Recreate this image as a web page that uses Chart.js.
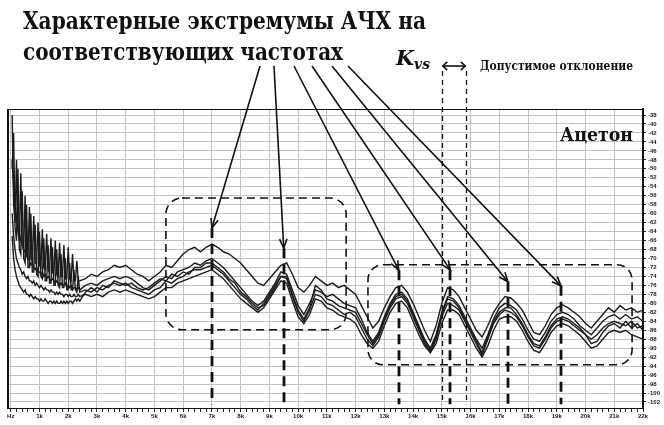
<!DOCTYPE html>
<html>
<head>
<meta charset="utf-8">
<script src="https://cdn.jsdelivr.net/npm/chart.js@4.4.1/dist/chart.umd.min.js"></script>
<style>
  html, body { margin: 0; padding: 0; background: #ffffff; }
  canvas { display: block; }
</style>
</head>
<body>
<canvas id="afc" width="664" height="425"></canvas>
<script>
// Frequency grid, Hz: fine steps in the low band, 200 Hz steps above it
const lowHz = [
  50, 100, 150, 200, 250, 300, 350, 400, 450, 500, 550, 600,
  650, 700, 750, 800, 850, 900, 950, 1000, 1050, 1100, 1150, 1200,
  1250, 1300, 1350, 1400, 1450, 1500, 1550, 1600, 1650, 1700, 1750, 1800,
  1850, 1900, 1950, 2000, 2050, 2100, 2150, 2200, 2250, 2300, 2350, 2400
];
const mainHz = [
  2600, 2800, 3000, 3200, 3400, 3600, 3800, 4000, 4200, 4400,
  4600, 4800, 5000, 5200, 5400, 5600, 5800, 6000, 6200, 6400,
  6600, 6800, 7000, 7200, 7400, 7600, 7800, 8000, 8200, 8400,
  8600, 8800, 9000, 9200, 9400, 9600, 9800, 10000, 10200, 10400,
  10600, 10800, 11000, 11200, 11400, 11600, 11800, 12000, 12200, 12400,
  12600, 12800, 13000, 13200, 13400, 13600, 13800, 14000, 14200, 14400,
  14600, 14800, 15000, 15200, 15400, 15600, 15800, 16000, 16200, 16400,
  16600, 16800, 17000, 17200, 17400, 17600, 17800, 18000, 18200, 18400,
  18600, 18800, 19000, 19200, 19400, 19600, 19800, 20000, 20200, 20400,
  20600, 20800, 21000, 21200, 21400, 21600, 21800, 22000
];
const freqHz = lowHz.concat(mainHz);

// Frequency response of the acetone runs, dB
const traceA = [
  -38, -58, -62, -48, -64, -66, -51, -67, -68, -56, -69, -69.5,
  -58.5, -70, -70.5, -60.5, -71, -71, -62, -71.5, -72, -63.5, -72, -72.5,
  -64.5, -72.5, -73, -65.5, -73, -73.5, -66, -73.5, -74, -66.5, -74, -74,
  -67, -74.5, -74.5, -67.5, -74.5, -75, -69, -75, -75, -70.5, -75, -75,
  -74.5, -73.5, -74, -73, -72.5, -71.5, -72, -71.5, -72.5, -73.5,
  -74, -75, -74, -73, -71.5, -72, -70.5, -69, -68, -67.5,
  -68.5, -67.5, -66.8, -67.5, -68.5, -69, -70, -71, -72.5, -74,
  -75.5, -76, -74.5, -73, -71.5, -71, -73.5, -76.5, -77.5, -76,
  -74, -75, -76, -75.5, -76.5, -76, -77, -78, -80.5, -83,
  -85.5, -84, -81, -78.5, -76.5, -76, -77.5, -80, -83, -86,
  -88.5, -85, -80, -76.5, -77, -78.5, -81, -83.5, -86, -87.5,
  -85, -82, -80, -78.5, -78.8, -80, -81.5, -84, -86.5, -87,
  -85, -82.5, -81, -80.3, -81, -82, -83, -84.5, -85.5, -84,
  -82.5, -81, -82, -80.5, -81.5, -81, -82, -81.5
];
const traceB = [
  -48, -54, -58, -61, -63, -64.5, -66, -67, -68, -68.5, -69.5, -70,
  -70.5, -71.5, -71, -72, -72.5, -72, -73, -73, -73.5, -73, -74, -73.5,
  -74.5, -74, -74.5, -75, -74.5, -75, -75.5, -75, -75.5, -76, -75.5, -76,
  -76, -75.5, -76.5, -76, -76.5, -76, -77, -76.5, -76.5, -77, -76.5, -77,
  -76, -75.5, -76, -75, -74.5, -74, -74.5, -74, -74.5, -75.5,
  -76.5, -77, -76, -75, -74, -74.5, -73, -72.5, -72, -71,
  -71.5, -70.5, -70, -71, -72, -73.5, -75, -76.5, -78, -79.5,
  -80.5, -79.5, -77.5, -75.5, -73, -73.5, -77, -80.5, -82.5, -80,
  -77, -77.5, -78.5, -78, -79, -80, -80.5, -81, -83.5, -86.5,
  -88.5, -86.5, -83, -80, -78, -77.5, -79, -82, -85, -88,
  -90, -87, -82, -78.5, -79, -80.5, -83, -85.5, -88, -90,
  -87, -83.5, -81, -80, -80.5, -81.5, -83.5, -86, -88, -88.5,
  -86.5, -84, -82.5, -82, -82.5, -83.5, -85, -86, -87, -85.5,
  -84, -83, -82.5, -83.5, -82.5, -83.5, -83, -84
];
const traceC = [
  -50, -42, -63, -66, -50, -68, -69, -55, -70, -71, -58, -72,
  -72, -60, -73, -73, -62.5, -73.5, -74, -64, -74, -74.5, -65.5, -75,
  -75, -67, -75.5, -75.5, -67.5, -76, -76, -68, -76, -76.5, -69, -76.5,
  -76.5, -70, -77, -77, -71, -77, -77, -72.5, -77, -77.5, -74, -77.5,
  -77, -77.5, -76.5, -77, -76, -75.5, -76, -75.5, -76.5, -77,
  -77.5, -78, -77, -76.5, -75, -75.5, -74.5, -74, -73, -72.5,
  -72.5, -72, -71.5, -72.5, -73.5, -75, -76.5, -78, -79, -80.5,
  -81.5, -80, -78, -76, -74, -74.5, -78.5, -82, -84, -81.5,
  -78, -78.5, -80, -80.5, -81.5, -82.5, -82, -83, -85.5, -88,
  -89.5, -87.5, -84, -81, -79, -78.5, -80, -83, -86, -89,
  -91, -88, -83, -80, -80.5, -81.5, -84, -86.5, -89, -91.5,
  -88, -84.5, -82.5, -81.5, -82, -83, -85, -87.5, -89.5, -90,
  -88, -85.5, -84, -83.5, -84, -85, -86, -87, -88, -87,
  -85.5, -84.5, -84, -84.5, -85, -84, -85.5, -85
];
const traceD = [
  -60, -65, -68, -70, -71, -72, -72.5, -73.5, -73, -74, -74.5, -74,
  -75, -75, -75.5, -75, -76, -75.5, -76, -76.5, -76, -76.5, -77, -76.5,
  -77, -77, -77.5, -77, -77.5, -77.5, -78, -77.5, -78, -77.5, -78, -78,
  -78.5, -78, -78, -78.5, -78, -78.5, -78.5, -78, -78.5, -78.5, -78, -78.5,
  -78, -78.5, -78, -78.5, -77.5, -77, -77.5, -77, -77.5, -78,
  -78.5, -79, -78.5, -77.5, -76.5, -76.5, -75.5, -75, -74.5, -74,
  -73.5, -73, -72.5, -73.5, -74.5, -76, -77.5, -79, -80, -81,
  -82, -81, -79, -77, -75, -75.5, -79.5, -83, -84.5, -82.5,
  -79, -79.5, -81, -81.5, -82.5, -83, -83.5, -84.5, -87, -89,
  -90, -88.5, -85, -82, -80, -79.5, -81, -84, -87, -89.5,
  -91, -89, -84.5, -81.5, -81.5, -82.5, -85, -87.5, -90, -92,
  -89.5, -86, -83.5, -83, -83, -84, -86, -88.5, -90.5, -91,
  -89, -86.5, -85, -84.5, -85, -86, -87, -88.5, -90, -89.5,
  -88, -86.5, -86, -86.5, -86, -87, -87.5, -88
];
const traceE = [
  -65, -70, -72.5, -74, -75, -76, -76.5, -77, -77.5, -77, -78, -78,
  -78.5, -78, -78.5, -79, -78.5, -79, -79, -79.5, -79, -79.5, -79.5, -79,
  -79.5, -80, -79.5, -79.5, -80, -79.5, -80, -79.5, -80, -80, -79.5, -80,
  -79.5, -80, -79.5, -80, -79.5, -79.5, -80, -79.5, -79, -79.5, -79, -79.5,
  -77.5, -76.5, -77.5, -76, -76.5, -75, -75.5, -76, -75.5, -76.5,
  -77, -76.5, -75.5, -74.5, -75, -73.5, -74, -73, -73.5, -72,
  -72, -71, -71, -72, -73, -74.5, -75.5, -77.5, -78.5, -80,
  -81, -80.5, -78.5, -76.5, -74, -74, -78, -81.5, -83.5, -81,
  -76, -77, -79, -79.5, -80.5, -81, -81.5, -82, -84.5, -87,
  -89, -87, -83.5, -80.5, -78.5, -78, -79.5, -82.5, -85.5, -88.5,
  -90.5, -87.5, -82.5, -79, -79.5, -81, -83.5, -86, -88.5, -91,
  -87.5, -84, -82, -81, -81, -82.5, -84.5, -87, -89, -89.5,
  -87.5, -85, -83.5, -83, -83.5, -84.5, -85.5, -87, -89, -88.5,
  -86.5, -85, -84.5, -85.5, -84, -85.5, -84.5, -86
];

// Characteristic extrema: frequency, Hz, and the level where the pointer lands, dB
const extremumHz = [7000, 9500, 13500, 15300, 17300, 19150];
const extremumTipDb = [-63.2, -67.7, -72.6, -72.6, -75.2, -76.1];
// Tolerance band K_vs, Hz
const toleranceHz = [15000, 15850];

// Axis ticks
const xTickHz = [0, 1000, 2000, 3000, 4000, 5000, 6000, 7000, 8000, 9000, 10000, 11000,
  12000, 13000, 14000, 15000, 16000, 17000, 18000, 19000, 20000, 21000, 22000];
const xTickLabels = ['Hz', '1k', '2k', '3k', '4k', '5k', '6k', '7k', '8k', '9k', '10k', '11k',
  '12k', '13k', '14k', '15k', '16k', '17k', '18k', '19k', '20k', '21k', '22k'];
const yTickDb = [-38, -40, -42, -44, -46, -48, -50, -52, -54, -56, -58, -60, -62, -64, -66, -68,
  -70, -72, -74, -76, -78, -80, -82, -84, -86, -88, -90, -92, -94, -96, -98, -100, -102];
const yTickLabels = ['-38', '-40', '-42', '-44', '-46', '-48', '-50', '-52', '-54', '-56', '-58',
  '-60', '-62', '-64', '-66', '-68', '-70', '-72', '-74', '-76', '-78', '-80', '-82', '-84',
  '-86', '-88', '-90', '-92', '-94', '-96', '-98', '-100', '-102'];

// minor x ticks every 200 Hz between the labelled ones
const xAllTicks = [];
for (let i = 0; i < xTickHz.length; i++) {
  xAllTicks.push(xTickHz[i]);
  if (i < xTickHz.length - 1) {
    const step = (xTickHz[i + 1] - xTickHz[i]) / 5;
    for (let k = 1; k < 5; k++) xAllTicks.push(xTickHz[i] + k * step);
  }
}

const traces = [traceA, traceB, traceC, traceD, traceE];
const datasets = traces.map(vals => ({
  data: freqHz.map((f, i) => ({ x: f, y: vals[i] })),
  borderColor: '#1b1b1b',
  borderWidth: 1.4,
  pointRadius: 0,
  tension: 0,
  fill: false
}));

function fitText(ctx, txt, x, base, width, font) {
  ctx.font = font;
  const w = ctx.measureText(txt).width;
  ctx.save();
  ctx.translate(x, base);
  ctx.scale(width / w, 1);
  ctx.fillText(txt, 0, 0);
  ctx.restore();
}

function roundBox(ctx, x0, y0, x1, y1, r) {
  ctx.beginPath();
  ctx.moveTo(x0 + r, y0);
  ctx.lineTo(x1 - r, y0);
  ctx.arcTo(x1, y0, x1, y0 + r, r);
  ctx.lineTo(x1, y1 - r);
  ctx.arcTo(x1, y1, x1 - r, y1, r);
  ctx.lineTo(x0 + r, y1);
  ctx.arcTo(x0, y1, x0, y1 - r, r);
  ctx.lineTo(x0, y0 + r);
  ctx.arcTo(x0, y0, x0 + r, y0, r);
  ctx.closePath();
  ctx.stroke();
}

function arrowHead(ctx, fx, fy, tx, ty, len, spread) {
  const ang = Math.atan2(ty - fy, tx - fx);
  ctx.beginPath();
  ctx.moveTo(tx - len * Math.cos(ang - spread), ty - len * Math.sin(ang - spread));
  ctx.lineTo(tx, ty);
  ctx.lineTo(tx - len * Math.cos(ang + spread), ty - len * Math.sin(ang + spread));
  ctx.stroke();
}

const overlay = {
  id: 'overlay',
  afterDraw(chart) {
    const { ctx, chartArea: a } = chart;
    const xs = chart.scales.x, ys = chart.scales.y;
    const px = v => xs.getPixelForValue(v);
    const py = v => ys.getPixelForValue(v);
    ctx.save();

    // plot frame, left and top sides
    ctx.strokeStyle = '#111';
    ctx.lineWidth = 1;
    ctx.beginPath();
    ctx.moveTo(a.left, a.top + 0.5);
    ctx.lineTo(a.right + 1, a.top + 0.5);
    ctx.stroke();
    ctx.lineWidth = 2;
    ctx.beginPath();
    ctx.moveTo(a.left + 1, a.top);
    ctx.lineTo(a.left + 1, a.bottom);
    ctx.stroke();

    // regions of characteristic extrema
    ctx.lineWidth = 1.6;
    ctx.setLineDash([8, 5]);
    roundBox(ctx, px(5400), py(-56.5), px(11670), py(-85.9), 16);
    roundBox(ctx, px(12430), py(-71.4), px(21620), py(-93.7), 15);

    // extremum markers
    ctx.lineWidth = 2.8;
    ctx.setLineDash([10, 6]);
    extremumHz.forEach((f, i) => {
      const xx = Math.round(px(f));
      ctx.beginPath();
      ctx.moveTo(xx, py(extremumTipDb[i]));
      ctx.lineTo(xx, py(-102.5));
      ctx.stroke();
    });

    // tolerance band K_vs
    ctx.lineWidth = 1.3;
    ctx.setLineDash([5, 4]);
    toleranceHz.forEach(f => {
      const xx = Math.round(px(f)) + 0.5;
      ctx.beginPath();
      ctx.moveTo(xx, 71);
      ctx.lineTo(xx, py(-102.5));
      ctx.stroke();
    });
    ctx.setLineDash([]);

    // pointers from the caption to each extremum
    const starts = [[260, 66], [274, 66], [294, 66], [312, 66], [332, 66], [348, 66]];
    ctx.lineWidth = 1.6;
    extremumHz.forEach((f, i) => {
      const tx = px(f), ty = py(extremumTipDb[i]);
      const [sx, sy] = starts[i];
      ctx.beginPath();
      ctx.moveTo(sx, sy);
      ctx.lineTo(tx, ty);
      ctx.stroke();
      arrowHead(ctx, sx, sy, tx, ty, 10, 0.38);
    });

    // double arrow above the tolerance band
    const l = px(toleranceHz[0]), r = px(toleranceHz[1]);
    ctx.lineWidth = 1.6;
    ctx.beginPath();
    ctx.moveTo(l + 1, 66);
    ctx.lineTo(r - 1, 66);
    ctx.stroke();
    arrowHead(ctx, r, 66, l + 1, 66, 6, 0.75);
    arrowHead(ctx, l, 66, r - 1, 66, 6, 0.75);

    // texts
    ctx.fillStyle = '#111';
    ctx.textBaseline = 'alphabetic';
    fitText(ctx, 'Характерные экстремумы АЧХ на', 23, 29, 403, 'bold 25px "DejaVu Serif"');
    fitText(ctx, 'соответствующих частотах', 23, 60, 320, 'bold 25px "DejaVu Serif"');
    fitText(ctx, 'K', 396, 65, 18, 'bold italic 21px "DejaVu Serif"');
    fitText(ctx, 'vs', 414, 69, 16, 'bold italic 14px "DejaVu Serif"');
    fitText(ctx, 'Допустимое отклонение', 480, 70, 153, 'bold 12px "DejaVu Serif"');
    fitText(ctx, 'Ацетон', 560, 141, 73, 'bold 18px "DejaVu Serif"');

    ctx.restore();
  }
};

new Chart(document.getElementById('afc').getContext('2d'), {
  type: 'line',
  data: { datasets },
  options: {
    responsive: false,
    animation: false,
    devicePixelRatio: 1,
    layout: { padding: { left: 7, top: 109, right: 0, bottom: 0 } },
    plugins: { legend: { display: false }, tooltip: { enabled: false } },
    scales: {
      x: {
        type: 'linear',
        position: 'bottom',
        min: -130,
        max: 22000,
        afterBuildTicks: s => { s.ticks = xAllTicks.map(v => ({ value: v })); },
        afterFit: s => { s.height = 17; },
        ticks: {
          autoSkip: false,
          maxRotation: 0,
          minRotation: 0,
          padding: 1,
          color: '#1a1a1a',
          font: { family: 'Liberation Sans', size: 6, weight: 'bold' },
          callback: v => { const i = xTickHz.indexOf(v); return i >= 0 ? xTickLabels[i] : ''; }
        },
        grid: {
          color: c => (c.tick && c.tick.value % 1000 === 0) ? '#c2c2c2' : 'rgba(0,0,0,0)',
          tickColor: '#222',
          tickLength: 4,
          lineWidth: 1
        },
        border: { display: true, color: '#111', width: 1 }
      },
      y: {
        type: 'linear',
        position: 'right',
        min: -103.34,
        max: -36.66,
        afterBuildTicks: s => { s.ticks = yTickDb.map(v => ({ value: v })); },
        afterFit: s => { s.width = 21; },
        ticks: {
          autoSkip: false,
          padding: 2,
          color: '#1a1a1a',
          font: { family: 'Liberation Sans', size: 6, weight: 'bold' },
          callback: v => { const i = yTickDb.indexOf(v); return i >= 0 ? yTickLabels[i] : ''; }
        },
        grid: { color: '#c2c2c2', tickColor: '#222', tickLength: 3, lineWidth: 1 },
        border: { display: true, color: '#111', width: 2 }
      }
    }
  },
  plugins: [overlay]
});
</script>
</body>
</html>
